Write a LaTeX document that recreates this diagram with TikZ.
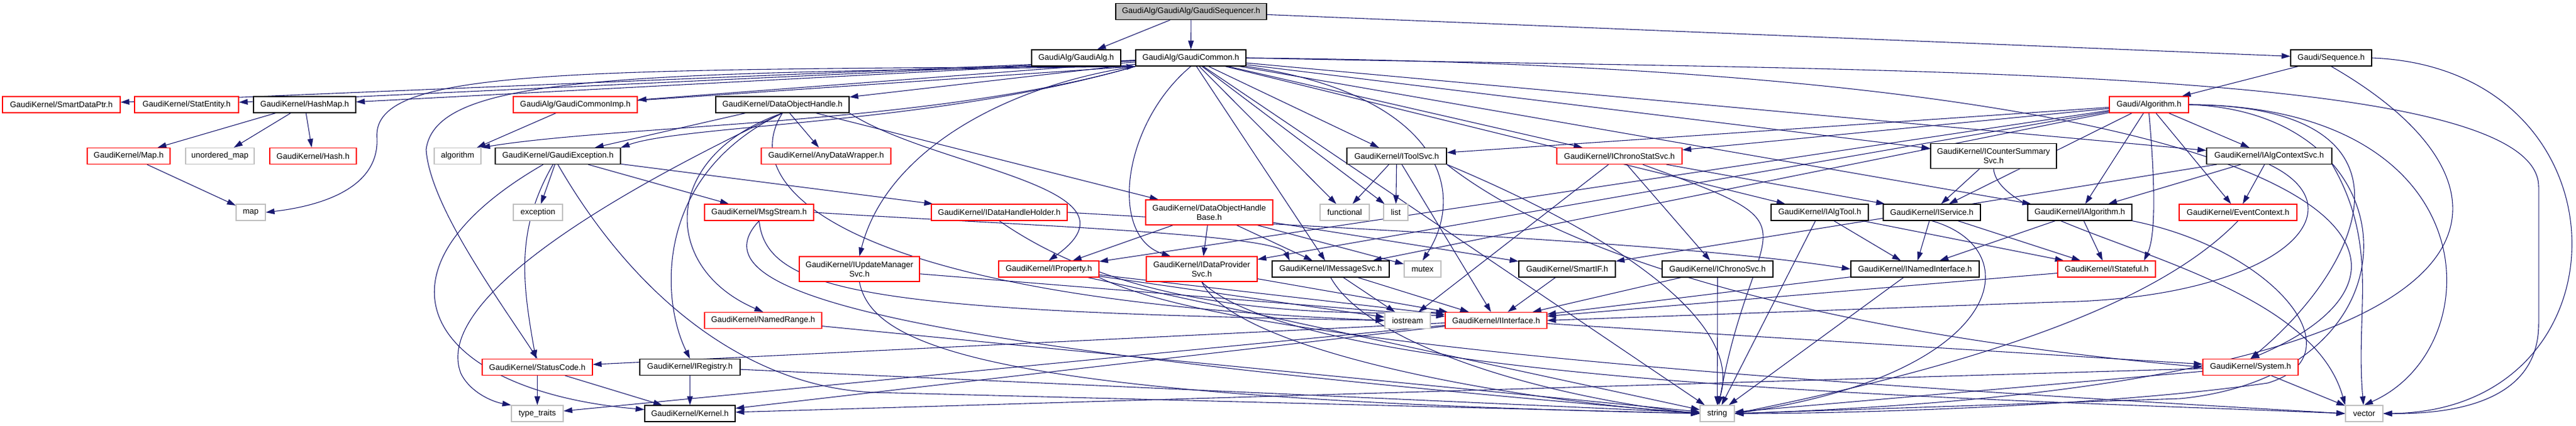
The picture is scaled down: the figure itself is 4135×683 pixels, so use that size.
\documentclass[tikz,border=0pt]{standalone}
\usepackage{fontspec}
\newfontfamily\dfont{Liberation Sans}
\usetikzlibrary{arrows.meta}
\definecolor{edgec}{RGB}{25,25,112}
\definecolor{greyc}{RGB}{191,191,191}
\pgfdeclarelayer{bg}
\pgfsetlayers{bg,main}
\begin{document}
\begin{tikzpicture}[x=1pt,y=1pt,
  box/.style={draw=black, line width=1.2pt, fill=white, inner sep=0pt, minimum height=26pt, align=center, font={\dfont\fontsize{13pt}{14.8pt}\selectfont}},
  bbox/.style={box},
  rbox/.style={box, draw=red},
  gbox/.style={box, draw=greyc},
  rootbox/.style={box, fill=greyc},
  tall/.style={minimum height=40pt},
  lnk/.style={draw=edgec, line width=1.1pt, -{Triangle[length=14pt,width=9pt]}}
]
\useasboundingbox (0,0) rectangle (4135,-683);
% row 0
\node[rootbox, minimum width=242pt] (seq) at (1912,-18.5) {GaudiAlg/GaudiAlg/GaudiSequencer.h};
% row 1
\node[bbox, minimum width=143pt] (galg) at (1727.5,-93) {GaudiAlg/GaudiAlg.h};
\node[bbox, minimum width=177pt] (gcom) at (1911.5,-93) {GaudiAlg/GaudiCommon.h};
\node[bbox, minimum width=130pt] (gseq) at (3742,-93) {Gaudi/Sequence.h};
% row 2
\node[rbox, minimum width=189pt] (sdp) at (98.5,-168) {GaudiKernel/SmartDataPtr.h};
\node[rbox, minimum width=167pt] (stat) at (299.5,-168) {GaudiKernel/StatEntity.h};
\node[bbox, minimum width=164pt] (hashmap) at (489,-168) {GaudiKernel/HashMap.h};
\node[rbox, minimum width=199pt] (gcimp) at (923.5,-168) {GaudiAlg/GaudiCommonImp.h};
\node[bbox, minimum width=214pt] (doh) at (1256,-168) {GaudiKernel/DataObjectHandle.h};
\node[rbox, minimum width=127pt] (algo) at (3449.5,-168) {Gaudi/Algorithm.h};
% row 3
\node[rbox, minimum width=133pt] (mapH) at (206.5,-250.5) {GaudiKernel/Map.h};
\node[gbox, minimum width=110pt] (unord) at (353,-250.5) {unordered\_map};
\node[rbox, minimum width=139pt] (hash) at (502.5,-250.5) {GaudiKernel/Hash.h};
\node[gbox, minimum width=75pt] (algorithm) at (734.5,-250.5) {algorithm};
\node[bbox, minimum width=201pt] (gexc) at (895.5,-250.5) {GaudiKernel/GaudiException.h};
\node[rbox, minimum width=208pt] (anydw) at (1326,-250.5) {GaudiKernel/AnyDataWrapper.h};
\node[bbox, minimum width=160pt] (itool) at (2242,-250.5) {GaudiKernel/IToolSvc.h};
\node[rbox, minimum width=201pt] (ichst) at (2599.5,-250.5) {GaudiKernel/IChronoStatSvc.h};
\node[bbox, tall, minimum width=202pt] (icnt) at (3200,-250.5) {GaudiKernel/ICounterSummary\\Svc.h};
\node[bbox, minimum width=201pt] (ialgctx) at (3642.5,-250.5) {GaudiKernel/IAlgContextSvc.h};
% row 4
\node[gbox, minimum width=47pt] (map) at (402.5,-341) {map};
\node[gbox, minimum width=79pt] (exception) at (863.5,-341) {exception};
\node[rbox, minimum width=175pt] (msg) at (1218.5,-341) {GaudiKernel/MsgStream.h};
\node[rbox, minimum width=218pt] (idhh) at (1604,-341) {GaudiKernel/IDataHandleHolder.h};
\node[rbox, tall, minimum width=204pt] (dohb) at (1941,-341) {GaudiKernel/DataObjectHandle\\Base.h};
\node[gbox, minimum width=79pt] (functional) at (2158.5,-341) {functional};
\node[gbox, minimum width=39pt] (list) at (2240.5,-341) {list};
\node[bbox, minimum width=156pt] (ialgtool) at (2921,-341) {GaudiKernel/IAlgTool.h};
\node[bbox, minimum width=156pt] (iservice) at (3101,-341) {GaudiKernel/IService.h};
\node[bbox, minimum width=167pt] (ialgorithm) at (3338.5,-341) {GaudiKernel/IAlgorithm.h};
\node[rbox, minimum width=189pt] (eventctx) at (3592.5,-341) {GaudiKernel/EventContext.h};
% row 5
\node[rbox, tall, minimum width=193pt] (iupd) at (1379.5,-432) {GaudiKernel/IUpdateManager\\Svc.h};
\node[rbox, minimum width=161pt] (iprop) at (1683.5,-432) {GaudiKernel/IProperty.h};
\node[rbox, tall, minimum width=178pt] (idp) at (1929,-432) {GaudiKernel/IDataProvider\\Svc.h};
\node[bbox, minimum width=188pt] (imsg) at (2136,-432) {GaudiKernel/IMessageSvc.h};
\node[gbox, minimum width=59pt] (mutex) at (2283.5,-432) {mutex};
\node[bbox, minimum width=155pt] (smartif) at (2515.5,-432) {GaudiKernel/SmartIF.h};
\node[bbox, minimum width=178pt] (ichrono) at (2757,-432) {GaudiKernel/IChronoSvc.h};
\node[bbox, minimum width=206pt] (inamed) at (3074,-432) {GaudiKernel/INamedInterface.h};
\node[rbox, minimum width=157pt] (istateful) at (3381.5,-432) {GaudiKernel/IStateful.h};
% row 6
\node[rbox, minimum width=188pt] (namedrange) at (1225,-514.5) {GaudiKernel/NamedRange.h};
\node[gbox, minimum width=73pt] (iostream) at (2259.5,-514.5) {iostream};
\node[rbox, minimum width=163pt] (iinterface) at (2401.5,-514.5) {GaudiKernel/IInterface.h};
% row 7
\node[rbox, minimum width=177pt] (statuscode) at (862.5,-589.5) {GaudiKernel/StatusCode.h};
\node[bbox, minimum width=161pt] (iregistry) at (1107.5,-589.5) {GaudiKernel/IRegistry.h};
\node[rbox, minimum width=153pt] (system) at (3612.5,-589.5) {GaudiKernel/System.h};
% row 8
\node[gbox, minimum width=83pt] (typetraits) at (862.5,-664) {type\_traits};
\node[bbox, minimum width=145pt] (kernel) at (1107.5,-664) {GaudiKernel/Kernel.h};
\node[gbox, minimum width=55pt] (string) at (2756.5,-664) {string};
\node[gbox, minimum width=60pt] (vector) at (3795,-664) {vector};

\begin{pgfonlayer}{bg}
% root
\draw[lnk] (seq) -- (galg);
\draw[lnk] (seq) -- (gcom);
\draw[lnk] (seq) -- (gseq);
% Sequence
\draw[lnk] (gseq) -- (algo);
\draw[lnk] (gseq.east) .. controls (4230,-110) and (4230,-660) .. (vector.east);
\draw[lnk] (gseq.south) .. controls (4080,-300) and (4100,-620) .. (string.east);
% GaudiCommon
\draw[lnk] (gcom) -- (sdp);
\draw[lnk] (gcom) -- (stat);
\draw[lnk] (gcom) -- (hashmap);
\draw[lnk] (gcom) -- (gcimp);
\draw[lnk] (gcom) -- (doh);
\draw[lnk] (gcom.south west) .. controls (900,-112) and (600,-110) .. (605,-220) .. controls (610,-300) and (520,-330) .. (map.east);
\draw[lnk] (gcom.south west) .. controls (1000,-118) and (700,-120) .. (684,-240) .. controls (690,-330) and (800,-480) .. (statuscode.north);
\draw[lnk] (gcom.south west) .. controls (1500,-200) and (1000,-200) .. (algorithm.north east);
\draw[lnk] (gcom.south west) .. controls (1500,-200) and (1100,-200) .. (gexc.north east);
\draw[lnk] (gcom.south west) .. controls (1600,-140) and (1420,-250) .. (iupd.north);
\draw[lnk] (gcom.south) .. controls (1800,-200) and (1780,-380) .. ([xshift=-50pt]idp.north);
\draw[lnk] (gcom) -- (imsg);
\draw[lnk] (gcom) -- (functional);
\draw[lnk] (gcom) -- (list);
\draw[lnk] (gcom) -- (itool);
\draw[lnk] (gcom.south east) .. controls (2300,-150) and (2360,-300) .. (mutex.north);
\draw[lnk] (gcom) -- (ichst);
\draw[lnk] (gcom) -- (icnt);
\draw[lnk] (gcom) -- (ialgtool);
\draw[lnk] (gcom) -- (ialgctx);
\draw[lnk] (gcom) -- (ialgorithm);
\draw[lnk] (gcom.east) .. controls (3800,-110) and (3980,-420) .. (system.north);
\draw[lnk] (gcom) -- (string);
\draw[lnk] (gcom.east) .. controls (3000,-115) and (4075,-100) .. (4075,-300) -- (4075,-520) .. controls (4075,-640) and (3950,-665) .. (vector.east);
% GaudiCommonImp
\draw[lnk] (gcimp) -- (algorithm);
\draw[lnk] (gcimp) -- (gcom.south west);
% HashMap
\draw[lnk] (hashmap) -- (mapH);
\draw[lnk] (hashmap) -- (unord);
\draw[lnk] (hashmap) -- (hash);
\draw[lnk] (mapH) -- (map);
% DataObjectHandle
\draw[lnk] (doh) -- (gexc);
\draw[lnk] (doh) -- (anydw);
\draw[lnk] (doh) -- (dohb);
\draw[lnk] (doh.south east) .. controls (1500,-270) and (1850,-300) .. (iprop.north);
\draw[lnk] (doh.south) .. controls (1060,-250) and (1060,-430) .. (namedrange.north);
\draw[lnk] (doh.south) .. controls (1050,-280) and (1060,-480) .. (iregistry.north);
\draw[lnk] (doh.south) .. controls (900,-350) and (700,-500) .. (740,-600) .. controls (755,-630) and (790,-645) .. (typetraits.north west);
\draw[lnk] (doh.south) .. controls (1180,-300) and (1350,-480) .. (iostream.west);
% GaudiException
\draw[lnk] (gexc) to[out=-120,in=100] (statuscode);
\draw[lnk] (gexc) -- (exception);
\draw[lnk] (gexc) -- (msg);
\draw[lnk] (gexc) to[out=-150,in=175,looseness=2.1] (kernel);
\draw[lnk] (gexc.south) .. controls (1020,-480) and (1200,-620) .. (1400,-630) -- (string.west);
\draw[lnk] (gexc) -- (idhh);
% MsgStream
\draw[lnk] (msg.east) .. controls (1600,-360) and (2050,-375) .. ([xshift=-66pt]imsg.north);
\draw[lnk] (msg.south) .. controls (1230,-470) and (1400,-500) .. (iostream.west);
\draw[lnk] (msg.south) .. controls (1100,-480) and (1500,-560) .. (string.west);
\draw[lnk] (namedrange) -- (string);
% StatusCode, IRegistry
\draw[lnk] (statuscode) -- (typetraits);
\draw[lnk] (statuscode) -- (kernel);
\draw[lnk] (iregistry) -- (kernel);
\draw[lnk] (iregistry) -- (string);
% DataObjectHandleBase
\draw[lnk] (dohb) -- (iprop);
\draw[lnk] (dohb) -- (idp);
\draw[lnk] (dohb) -- (imsg);
\draw[lnk] (dohb) -- (mutex);
\draw[lnk] (dohb) -- (smartif);
% IDataHandleHolder
\draw[lnk] (idhh.east) .. controls (2200,-370) and (2700,-390) .. (inamed.west);
\draw[lnk] (idhh.south) .. controls (1770,-470) and (2000,-510) .. (iinterface.north west);
% IToolSvc
\draw[lnk] (itool) -- (functional);
\draw[lnk] (itool) -- (list);
\draw[lnk] (itool) -- (iinterface);
\draw[lnk] (itool.south east) .. controls (2600,-480) and (3200,-560) .. (system.west);
\draw[lnk] (itool.south east) .. controls (2600,-380) and (2800,-520) .. (string.north);
% IChronoStatSvc
\draw[lnk] (ichst) -- (iostream);
\draw[lnk] (ichst) -- (ichrono);
\draw[lnk] (ichst) to[out=-20,in=80,looseness=2] (string);
\draw[lnk] (ichst) -- (iservice);
% ICounterSummarySvc
\draw[lnk] (icnt) -- (iservice);
\draw[lnk] (icnt.south) .. controls (3210,-380) and (3700,-420) .. (vector.north west);
% IAlgContextSvc
\draw[lnk] (ialgctx) -- (ialgorithm);
\draw[lnk] (ialgctx) -- (eventctx);
\draw[lnk] (ialgctx) -- (smartif);
\draw[lnk] (ialgctx.south east) to[out=-60,in=95] (vector);
\draw[lnk] (ialgctx.south) .. controls (3800,-340) and (3650,-480) .. (3300,-485) -- (iinterface.east);
% Algorithm
\draw[lnk] (algo) -- (ialgctx);
\draw[lnk] (algo) -- (ialgorithm);
\draw[lnk] (algo) -- (eventctx);
\draw[lnk] (algo.south) .. controls (3460,-300) and (3460,-380) .. ([xshift=60pt]istateful.north);
\draw[lnk] (algo.east) .. controls (3900,-170) and (3800,-420) .. (system.north);
\draw[lnk] (algo.east) .. controls (4000,-170) and (4000,-560) .. (vector.north);
\draw[lnk] (algo.east) .. controls (3880,-180) and (3900,-600) .. (3500,-640) -- (string.east);
\draw[lnk] (algo) -- (itool);
\draw[lnk] (algo) -- (idp);
\draw[lnk] (algo) -- (imsg);
\draw[lnk] (algo) -- (iprop);
\draw[lnk] (algo) -- (iservice);
\draw[lnk] (algo) -- (ichst);
% IAlgTool, IService, IAlgorithm
\draw[lnk] (ialgtool) -- (inamed);
\draw[lnk] (ialgtool) -- (istateful);
\draw[lnk] (ialgtool) -- (string);
\draw[lnk] (iservice) -- (inamed);
\draw[lnk] (iservice) -- (istateful);
\draw[lnk] (iservice.south) .. controls (3260,-400) and (3220,-600) .. (string.east);
\draw[lnk] (ialgorithm) -- (inamed);
\draw[lnk] (ialgorithm) -- (istateful);
\draw[lnk] (ialgorithm.south east) .. controls (3650,-400) and (3790,-570) .. (3640,-615) .. controls (3400,-650) and (3000,-664) .. (string.east);
\draw[lnk] (eventctx.south) .. controls (3500,-450) and (3300,-560) .. (string.east);
% row 5 interfaces
\draw[lnk] (iupd) -- (iinterface);
\draw[lnk] (iupd.south) .. controls (1400,-560) and (1600,-640) .. (string.west);
\draw[lnk] (iprop) -- (iinterface);
\draw[lnk] (iprop) -- (iostream);
\draw[lnk] (iprop) -- (string);
\draw[lnk] (iprop.south east) .. controls (2000,-560) and (3000,-620) .. (vector.west);
\draw[lnk] (idp) -- (iinterface);
\draw[lnk] (idp.south) .. controls (1980,-560) and (2400,-640) .. (string.west);
\draw[lnk] (idp.south) .. controls (2100,-620) and (3200,-640) .. (vector.west);
\draw[lnk] (imsg) -- (iinterface);
\draw[lnk] (imsg) -- (iostream);
\draw[lnk] (imsg.south) .. controls (2200,-560) and (2500,-640) .. (string.west);
\draw[lnk] (smartif) -- (iinterface);
\draw[lnk] (ichrono) -- (iinterface);
\draw[lnk] (ichrono) -- (string);
\draw[lnk] (inamed) -- (iinterface);
\draw[lnk] (inamed) -- (string);
\draw[lnk] (istateful) -- (iinterface);
% IInterface
\draw[lnk] (iinterface) -- (statuscode);
\draw[lnk] (iinterface) -- (system);
\draw[lnk] (iinterface) -- (kernel);
\draw[lnk] (iinterface) -- (typetraits);
% System
\draw[lnk] (system) -- (vector);
\draw[lnk] (system) -- (string);
\draw[lnk] (system) -- (kernel);
\end{pgfonlayer}
\end{tikzpicture}
\end{document}
